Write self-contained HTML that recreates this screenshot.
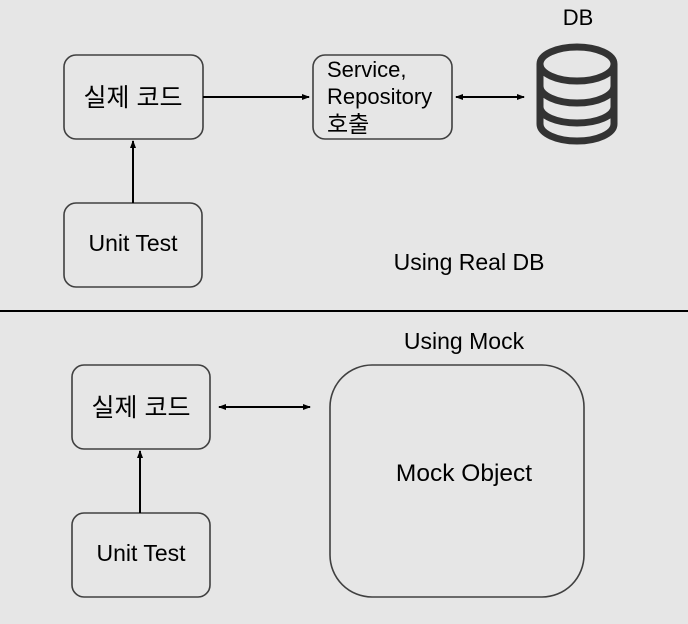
<!DOCTYPE html>
<html><head><meta charset="utf-8"><style>
html,body{margin:0;padding:0;background:#e6e6e6;}
svg{display:block;}
text{font-family:"Liberation Sans","Noto Sans CJK KR",sans-serif;fill:#000;}
</style></head><body>
<svg width="688" height="624" viewBox="0 0 688 624" xmlns="http://www.w3.org/2000/svg">
<defs>
<marker id="a" markerWidth="8" markerHeight="8" refX="7" refY="4" orient="auto" markerUnits="userSpaceOnUse">
<path d="M0,1 L8,4 L0,7 Z" fill="#000"/></marker>
<marker id="s" markerWidth="8" markerHeight="8" refX="1" refY="4" orient="auto" markerUnits="userSpaceOnUse">
<path d="M8,1 L0,4 L8,7 Z" fill="#000"/></marker>
</defs>
<rect width="688" height="624" fill="#e6e6e6"/>
<g fill="none" stroke="#404040" stroke-width="1.6">
<rect x="64" y="55" width="139" height="84" rx="12"/>
<rect x="313" y="55" width="139" height="84" rx="12"/>
<rect x="64" y="203" width="138" height="84" rx="12"/>
<rect x="72" y="365" width="138" height="84" rx="12"/>
<rect x="72" y="513" width="138" height="84" rx="12"/>
<rect x="330" y="365" width="254" height="232" rx="42"/>
</g>
<g stroke="#000" stroke-width="2" fill="none">
<line x1="203" y1="97" x2="309" y2="97" marker-end="url(#a)"/>
<line x1="456" y1="97" x2="524" y2="97" marker-start="url(#s)" marker-end="url(#a)"/>
<line x1="133" y1="203" x2="133" y2="141" marker-end="url(#a)"/>
<line x1="140" y1="513" x2="140" y2="451" marker-end="url(#a)"/>
<line x1="219" y1="407" x2="310" y2="407" marker-start="url(#s)" marker-end="url(#a)"/>
</g>
<line x1="0" y1="311" x2="688" y2="311" stroke="#000" stroke-width="2"/>
<g fill="none" stroke="#333" stroke-width="7">
<ellipse cx="577" cy="64" rx="37" ry="17"/>
<path d="M540,64 V124 A37 17 0 0 0 614 124 V64"/>
<path d="M540,86 A37 17 0 0 0 614 86"/>
<path d="M540,107 A37 16 0 0 0 614 107"/>
</g>
<text x="133" y="106" font-size="25" text-anchor="middle">실제 코드</text>
<text x="133" y="251" font-size="23" text-anchor="middle">Unit Test</text>
<text x="327" y="77" font-size="22">Service,</text>
<text x="327" y="104" font-size="22">Repository</text>
<text x="327" y="132" font-size="23">호출</text>
<text x="578" y="25" font-size="22" text-anchor="middle">DB</text>
<text x="469" y="270" font-size="23" text-anchor="middle">Using Real DB</text>
<text x="464" y="349" font-size="23" text-anchor="middle">Using Mock</text>
<text x="141" y="416" font-size="25" text-anchor="middle">실제 코드</text>
<text x="141" y="561" font-size="23" text-anchor="middle">Unit Test</text>
<text x="464" y="481" font-size="24.5" text-anchor="middle">Mock Object</text>
</svg>
</body></html>
